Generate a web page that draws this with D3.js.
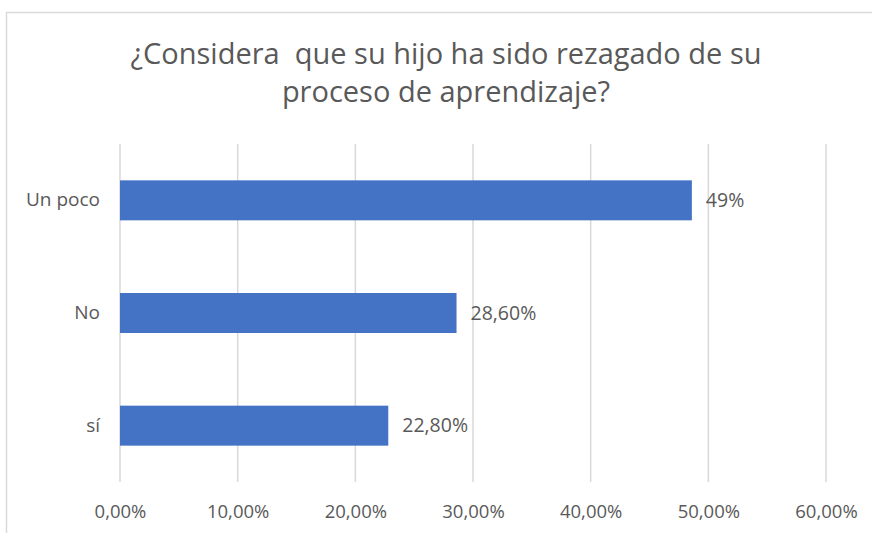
<!DOCTYPE html>
<html>
<head>
<meta charset="utf-8">
<script src="https://cdn.jsdelivr.net/npm/d3@7"></script>
<style>
  html, body { margin: 0; padding: 0; background: #fff; }
  svg text { font-family: "Open Sans", "Noto Sans", sans-serif; fill: #595959; }
</style>
</head>
<body>
<svg id="chart" width="872" height="533"></svg>
<script>
// data
var categories = ["Un poco", "No", "sí"];
var values     = [0.486, 0.286, 0.228];
var valueLabels = ["49%", "28,60%", "22,80%"];
var ticks      = [0, 0.1, 0.2, 0.3, 0.4, 0.5, 0.6];
var tickLabels = ["0,00%", "10,00%", "20,00%", "30,00%", "40,00%", "50,00%", "60,00%"];
var titleLines = ["¿Considera  que su hijo ha sido rezagado de su", "proceso de aprendizaje?"];

var svg = d3.select("#chart");

// chart area border (only top and left visible in the crop)
svg.append("rect")
  .attr("x", 6.5).attr("y", 12.5)
  .attr("width", 900).attr("height", 600)
  .attr("fill", "#fff")
  .attr("stroke", "#d9d9d9").attr("stroke-width", 1.5);

var x = d3.scaleLinear().domain([0, 0.6]).range([120, 826]);
var y = d3.scaleBand().domain(categories).range([144, 482])
  .paddingInner(0.645).paddingOuter(0.3225);

// title
svg.append("g").selectAll("text")
  .data(titleLines).join("text")
  .attr("x", 446)
  .attr("y", function (d, i) { return 64 + i * 38; })
  .attr("text-anchor", "middle")
  .style("font-size", "29px")
  .style("white-space", "pre")
  .text(function (d) { return d; });

// vertical gridlines
svg.append("g").selectAll("line")
  .data(ticks).join("line")
  .attr("x1", function (d) { return x(d); })
  .attr("x2", function (d) { return x(d); })
  .attr("y1", 144).attr("y2", 482)
  .attr("stroke", "#d9d9d9").attr("stroke-width", 1.5);

// x axis labels
var xAxis = d3.axisBottom(x)
  .tickValues(ticks)
  .tickSize(0)
  .tickPadding(0)
  .tickFormat(function (d, i) { return tickLabels[i]; });
var gx = svg.append("g").attr("transform", "translate(0,505)").call(xAxis);
gx.select(".domain").remove();
gx.selectAll("text")
  .attr("dy", "0.71em")
  .style("font-size", "18.5px")
  .style("font-family", "'Open Sans', sans-serif")
  .attr("fill", "#595959");

// y axis labels
var yAxis = d3.axisLeft(y).tickSize(0).tickPadding(20);
var gy = svg.append("g").attr("transform", "translate(120,0)").call(yAxis);
gy.select(".domain").remove();
gy.selectAll("text")
  .style("font-size", "19px")
  .style("font-family", "'Open Sans', sans-serif")
  .attr("fill", "#595959");

// bars
var rows = categories.map(function (c, i) {
  return { cat: c, value: values[i], label: valueLabels[i] };
});

svg.append("g").selectAll("rect")
  .data(rows).join("rect")
  .attr("x", x(0))
  .attr("y", function (d) { return y(d.cat); })
  .attr("width", function (d) { return x(d.value) - x(0); })
  .attr("height", y.bandwidth())
  .attr("fill", "#4472c4");

// value labels
svg.append("g").selectAll("text")
  .data(rows).join("text")
  .attr("x", function (d) { return x(d.value) + 14; })
  .attr("y", function (d) { return y(d.cat) + y.bandwidth() / 2; })
  .attr("dy", "0.35em")
  .style("font-size", "19.5px")
  .text(function (d) { return d.label; });
</script>
</body>
</html>
